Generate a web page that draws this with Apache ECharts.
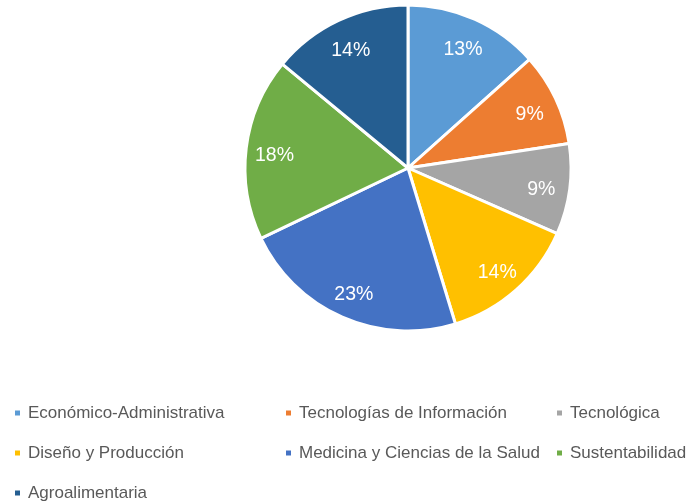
<!DOCTYPE html>
<html><head><meta charset="utf-8">
<script src="https://cdn.jsdelivr.net/npm/echarts@6/dist/echarts.min.js"></script>
<style>html,body{margin:0;padding:0;background:#fff}#c{width:687px;height:503px}</style>
</head><body><div id="c"></div>
<script>
const categories = ["Económico-Administrativa","Tecnologías de Información","Tecnológica","Diseño y Producción","Medicina y Ciencias de la Salud","Sustentabilidad","Agroalimentaria"];
const values = [13.4, 9.2, 9.0, 13.7, 22.6, 18.1, 14.0];
const colors = ["#5B9BD5","#ED7D31","#A5A5A5","#FFC000","#4472C4","#70AD47","#255E91"];

const FONT = "'Liberation Sans',Arial,sans-serif";
const legendPos = [[13,403],[284,403],[555,403],[13,443],[284,443],[555,443],[13,483]];
const chart = echarts.init(document.getElementById('c'), null, {renderer:'canvas'});
const data = categories.map((n,i)=>({name:n, value:values[i], itemStyle:{color:colors[i]}}));
chart.setOption({
  animation:false,
  legend: categories.map((n,i)=>({
    data:[{name:n, itemStyle:{color:colors[i]}}], left:legendPos[i][0], top:legendPos[i][1], padding:0,
    icon:'rect', itemWidth:7, itemHeight:7, itemGap:7,
    textStyle:{color:'#595959', fontSize:17, fontFamily:FONT, lineHeight:20, padding:[0,0,0,2]}
  })),
  series:[
    {type:'pie', center:[408,168], radius:[0,163], startAngle:90, clockwise:true,
     data:data, itemStyle:{borderColor:'#fff', borderWidth:3}, label:{show:false}, labelLine:{show:false},
     emphasis:{disabled:true}, silent:true},
    {type:'pie', center:[408,168], radius:[122,141], startAngle:90, clockwise:true,
     data:categories.map((n,i)=>({name:n, value:values[i], itemStyle:{color:'rgba(0,0,0,0)'}})),
     legendHoverLink:false, silent:true, emphasis:{disabled:true},
     label:{show:true, position:'inside', color:'#fff', fontSize:19.5, fontFamily:FONT, offset:[0,4],
       formatter:p=>Math.round(p.percent)+'%'}, labelLine:{show:false}}
  ]
});
</script></body></html>
